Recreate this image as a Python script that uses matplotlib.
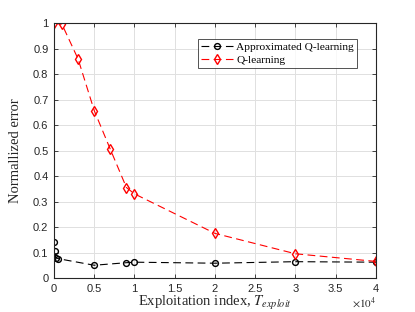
import matplotlib
matplotlib.use("Agg")
import matplotlib.pyplot as plt

# Data
x_approx = [0, 100, 200, 500, 5000, 9000, 10000, 20000, 30000, 40000]
y_approx = [0.142, 0.107, 0.080, 0.076, 0.050, 0.060, 0.062, 0.058, 0.064, 0.062]
x_q = [0, 1000, 3000, 5000, 7000, 9000, 10000, 20000, 30000, 40000]
y_q = [1.0, 0.995, 0.859, 0.657, 0.505, 0.355, 0.330, 0.175, 0.095, 0.065]
x_ticks = [0, 0.5e4, 1e4, 1.5e4, 2e4, 2.5e4, 3e4, 3.5e4, 4e4]
x_ticklabels = ['0', '0.5', '1', '1.5', '2', '2.5', '3', '3.5', '4']
y_ticks = [0, 0.1, 0.2, 0.3, 0.4, 0.5, 0.6, 0.7, 0.8, 0.9, 1.0]
y_ticklabels = ['0', '0.1', '0.2', '0.3', '0.4', '0.5', '0.6', '0.7', '0.8', '0.9', '1']

plt.rcParams['mathtext.fontset'] = 'stix'

fig = plt.figure(figsize=(4.15, 3.12), dpi=100)
ax = fig.add_axes([0.130, 0.109, 0.776, 0.817])

ax.plot(x_approx, y_approx, linestyle=(0, (7, 4)), color='black', lw=0.8,
        marker='o', markersize=4.2, markerfacecolor='none', markeredgewidth=1.0,
        label='Approximated Q-learning')
ax.plot(x_q, y_q, linestyle=(0, (7, 4)), color='red', lw=0.8,
        marker='d', markersize=5.2, markerfacecolor='none', markeredgewidth=1.0,
        label='Q-learning')

ax.set_xlim(0, 4e4)
ax.set_ylim(0, 1)
ax.set_xticks(x_ticks)
ax.set_yticks(y_ticks)
ax.set_yticklabels(y_ticklabels)
ax.set_xticklabels(x_ticklabels)

ax.grid(True, color='#e0e0e0', lw=0.7)
ax.set_axisbelow(True)
for s in ax.spines.values():
    s.set_color('#262626')
    s.set_linewidth(0.8)
ax.tick_params(direction='in', top=True, right=True, length=3, width=0.6,
               labelsize=8, colors='#262626', pad=4)
for lbl in ax.get_xticklabels() + ax.get_yticklabels():
    lbl.set_family('Liberation Sans')

ax.text(1.0, -0.097, r'$\times10^4$', transform=ax.transAxes, ha='right', va='center',
        fontsize=8, color='#262626', family='Liberation Sans')

ax.set_xlabel(r'Exploitation index, $T_{exploit}$', fontsize=10.5, family='Liberation Serif',
              color='#262626')
ax.xaxis.set_label_coords(0.5, -0.062)
ax.set_ylabel('Normallized error', fontsize=10.5, family='Liberation Serif',
              color='#262626')
ax.yaxis.set_label_coords(-0.099, 0.5)

leg = ax.legend(loc='upper left', bbox_to_anchor=(198/415, 1 - 39/312),
                bbox_transform=fig.transFigure,
                prop={'family': 'Liberation Serif', 'size': 8.2}, frameon=True,
                fancybox=False, edgecolor='#262626', handlelength=2.8,
                borderpad=0.25, labelspacing=0.3, handletextpad=0.3, borderaxespad=0)
leg.get_frame().set_linewidth(0.7)

fig.savefig('out.png', dpi=100)
